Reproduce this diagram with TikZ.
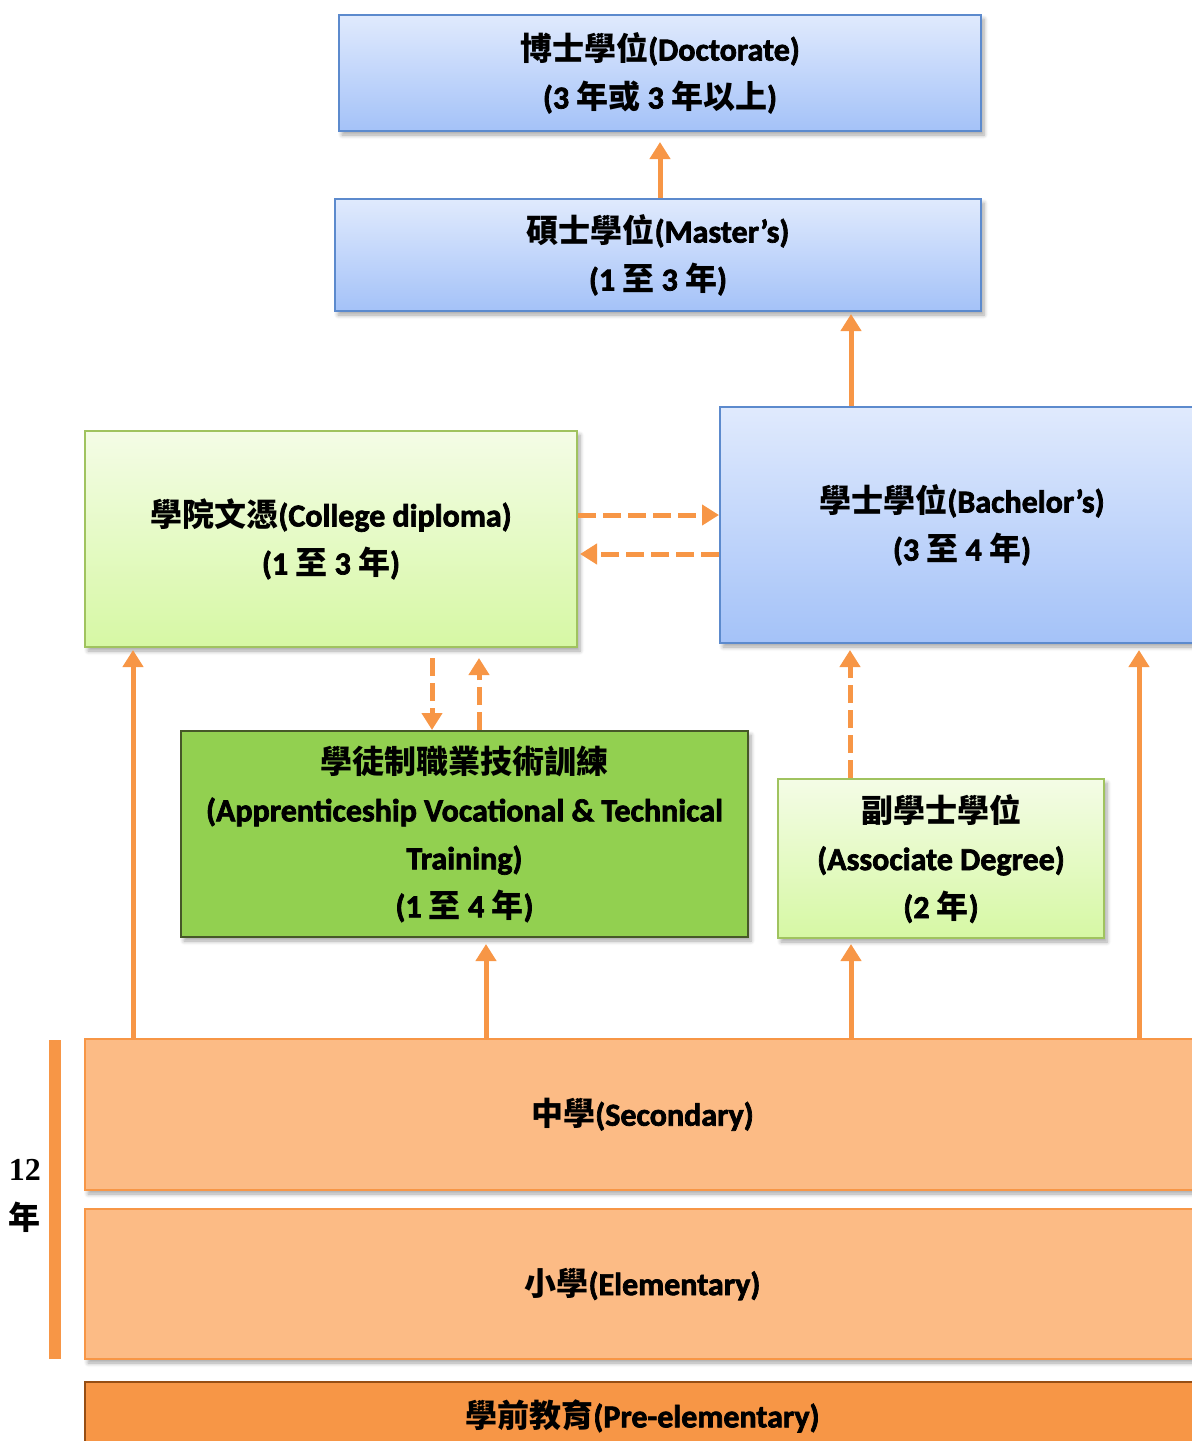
\documentclass[tikz,border=0pt]{standalone}
\usepackage{fontspec}
\setmainfont{Carlito}[BoldFeatures={FakeBold=2.2}]
\newfontfamily\cjk{Noto Sans CJK TC}
\newfontfamily\tms{Liberation Serif}
\usetikzlibrary{arrows.meta,shadows.blur}

\definecolor{arrorange}{RGB}{247,150,70}
\definecolor{bluetop}{RGB}{224,234,253}
\definecolor{bluebot}{RGB}{164,194,248}
\definecolor{blueborder}{RGB}{92,138,205}
\definecolor{greentop}{RGB}{244,252,230}
\definecolor{greenbot}{RGB}{214,248,164}
\definecolor{greenborder}{RGB}{160,195,95}
\definecolor{appfill}{RGB}{146,208,80}
\definecolor{appborder}{RGB}{70,88,40}
\definecolor{lightorange}{RGB}{252,187,133}
\definecolor{preborder}{RGB}{150,78,20}

\tikzset{
  box/.style={draw, line width=1pt, inner sep=0pt, align=center,
    font=\bfseries\fontsize{16}{24}\selectfont,
    blur shadow={shadow xshift=1.5pt, shadow yshift=-2pt, shadow blur steps=6,
      shadow opacity=35, shadow blur radius=2pt}},
  bluebox/.style={box, draw=blueborder, top color=bluetop, bottom color=bluebot},
  greenbox/.style={box, draw=greenborder, top color=greentop, bottom color=greenbot},
  appbox/.style={box, draw=appborder, fill=appfill},
  orangebox/.style={box, draw=arrorange, fill=lightorange},
  prebox/.style={box, draw=preborder, fill=arrorange},
  arr/.style={draw=arrorange, line width=2.5pt, -{Triangle[width=10pt,length=8.5pt]}},
  darr/.style={arr, dash pattern=on 9pt off 3.5pt},
  yearlabel/.style={inner sep=0pt, font=\bfseries\fontsize{16}{20}\selectfont},
}

\begin{document}
\begin{tikzpicture}[x=0.5pt,y=-0.5pt]
\useasboundingbox (0,0) rectangle (1192,1441);

\node[bluebox, minimum width=321pt, minimum height=58pt] (doc) at (660,73)
  {{\cjk 博士學位}(Doctorate)\\(3 {\cjk 年或} 3 {\cjk 年以上})};
\node[bluebox, minimum width=323pt, minimum height=56pt] (mas) at (658,255)
  {{\cjk 碩士學位}(Master’s)\\(1 {\cjk 至} 3 {\cjk 年})};
\node[bluebox, minimum width=242pt, minimum height=118pt] (bac) at (962,525)
  {{\cjk 學士學位}(Bachelor’s)\\(3 {\cjk 至} 4 {\cjk 年})};
\node[greenbox, minimum width=246pt, minimum height=108pt] (col) at (331,539)
  {{\cjk 學院文憑}(College diploma)\\(1 {\cjk 至} 3 {\cjk 年})};
\node[appbox, minimum width=283.5pt, minimum height=103pt] (app) at (464.5,834)
  {{\cjk 學徒制職業技術訓練}\\(Apprenticeship Vocational \& Technical\\Training)\\(1 {\cjk 至} 4 {\cjk 年})};
\node[greenbox, minimum width=163pt, minimum height=79.5pt] (ass) at (941,858.5)
  {{\cjk 副學士學位}\\(Associate Degree)\\(2 {\cjk 年})};
\node[orangebox, minimum width=557.5pt, minimum height=75.5pt] (sec) at (642.5,1114.5)
  {{\cjk 中學}(Secondary)};
\node[orangebox, minimum width=557.5pt, minimum height=75pt] (ele) at (642.5,1284)
  {{\cjk 小學}(Elementary)};
\node[prebox, minimum width=557.5pt, minimum height=34pt] (pre) at (642.5,1416)
  {{\cjk 學前教育}(Pre-elementary)};

% 12-year bar
\fill[arrorange] (49,1040) rectangle (61,1359);
\node[yearlabel] (twelve) at (25,1170) {\tms 12};
\node[yearlabel] (nian) at (25,1217) {\cjk 年};

% arrows
\draw[arr, shorten >=5pt] (mas.north -| doc.south) -- (doc.south);
\draw[arr, shorten >=1pt] (bac.north -| 851,0) -- (mas.south -| 851,0);
\draw[darr] (col.east |- 0,515) -- (bac.west |- 0,515);
\draw[darr, shorten >=1pt] (bac.west |- 0,554) -- (col.east |- 0,554);
\draw[darr, shorten <=5pt] (col.south -| 432,0) -- (app.north -| 432,0);
\draw[darr, shorten >=5pt] (app.north -| 479,0) -- (col.south -| 479,0);
\draw[arr, shorten >=1pt] (sec.north -| 133,0) -- (col.south -| 133,0);
\draw[arr, shorten >=3pt] (sec.north -| 486,0) -- (app.south -| 486,0);
\draw[arr, shorten >=2.5pt] (sec.north -| 851,0) -- (ass.south -| 851,0);
\draw[arr, shorten >=3pt] (sec.north -| 1139,0) -- (bac.south -| 1139,0);
\draw[darr, shorten >=3pt] (ass.north -| 850,0) -- (bac.south -| 850,0);
\end{tikzpicture}
\end{document}
